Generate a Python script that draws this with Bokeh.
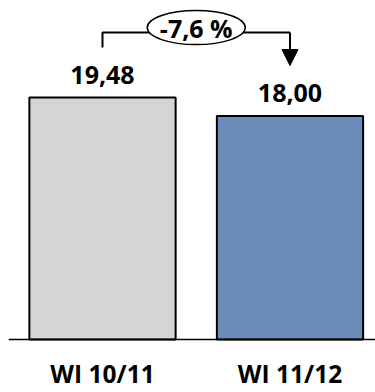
from bokeh.plotting import figure
from bokeh.models import Range1d, ColumnDataSource, Arrow, NormalHead, Span
from bokeh.core.properties import value
from bokeh.embed import file_html
from bokeh.resources import INLINE

categories = ["WI 10/11", "WI 11/12"]
values = [19.48, 18.00]
value_labels = ["19,48", "18,00"]
bar_colors = ["#D4D5D7", "#6C8DBA"]
change_label = "-7,6 %"

FONT = "Open Sans"
xs = list(range(len(categories)))

p = figure(width=375, height=392, output_backend="svg", toolbar_location=None,
           x_range=Range1d(-0.5013, 1.456), y_range=Range1d(-4.267, 27.3),
           min_border_left=8, min_border_right=0, min_border_top=0, min_border_bottom=0)
p.outline_line_color = None
p.xgrid.visible = False
p.ygrid.visible = False
p.xaxis.visible = False
p.yaxis.visible = False

src = ColumnDataSource(dict(x=xs, top=values, color=bar_colors, label=value_labels,
                            cat=categories, zero=[0] * len(xs)))
p.vbar(x="x", top="top", width=0.78, bottom=0, fill_color="color",
       line_color="black", line_width=2, source=src)

# baseline (category axis line)
p.add_layout(Span(location=0, dimension="width", line_color="black", line_width=1.5))

# value labels
p.text(x="x", y="top", text="label", source=src, text_align="center",
       text_baseline="alphabetic", y_offset=-23, text_font=value(FONT),
       text_font_style="bold", text_font_size="25px", text_color="black")

# category labels
p.text(x="x", y="zero", text="cat", source=src, text_align="center",
       text_baseline="alphabetic", y_offset=34, text_font=value(FONT),
       text_font_style="bold", text_font_size="24.5px", text_color="black")

# bracket showing change
top_y = values[0] + 5.24
start_y = values[0] + 4.03
end_y = values[1] + 4.06
p.line(x=[xs[0], xs[0], xs[1]], y=[start_y, top_y, top_y], line_color="black", line_width=2)
p.add_layout(Arrow(x_start=xs[1], y_start=top_y, x_end=xs[1], y_end=end_y,
                   line_color="black", line_width=2,
                   end=NormalHead(size=16, fill_color="black", line_color="black")))
mid = (xs[0] + xs[1]) / 2
p.ellipse(x=[mid], y=[top_y + 0.4], width=98, height=34, width_units="screen",
          height_units="screen", fill_color="white", line_color="black", line_width=1.5)
p.text(x=[mid], y=[top_y], text=[change_label], text_align="center",
       text_baseline="alphabetic", y_offset=-5, text_font=value(FONT), text_font_style="bold",
       text_font_size="25px", text_color="black")

open("out.html", "w").write(file_html(p, INLINE))
